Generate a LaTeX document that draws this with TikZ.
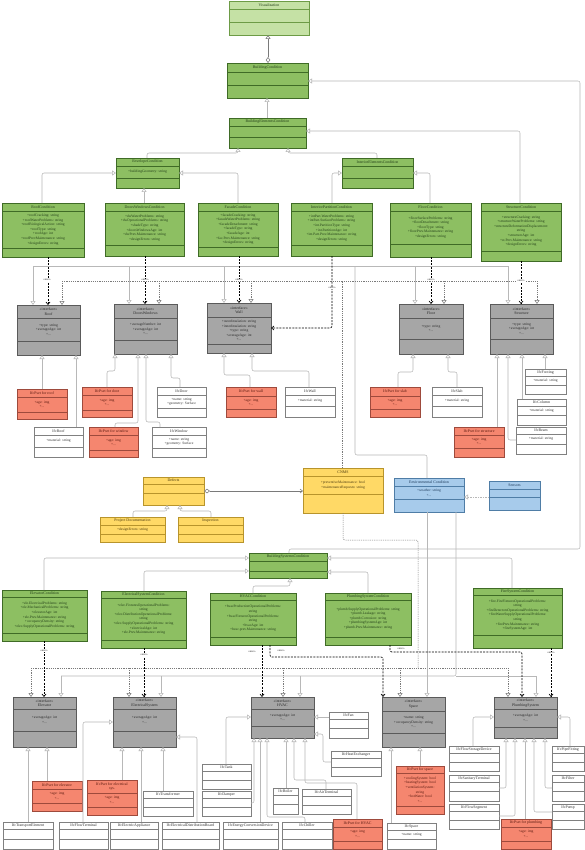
\documentclass[tikz,border=0pt]{standalone}
\usepackage{fontspec}
\setmainfont{Liberation Serif}
\usetikzlibrary{arrows.meta,fit,calc}
\definecolor{lgF}{HTML}{C5E1A5}\definecolor{lgD}{HTML}{6D9B46}
\definecolor{gF}{HTML}{8DBF62}\definecolor{gD}{HTML}{3F6B26}\definecolor{gT}{HTML}{24401A}
\definecolor{iF}{HTML}{A6A6A6}\definecolor{iD}{HTML}{5A5A5A}\definecolor{iT}{HTML}{2A2A2A}
\definecolor{pF}{HTML}{F5866F}\definecolor{pD}{HTML}{9E4A3C}\definecolor{pT}{HTML}{5A1A10}
\definecolor{yF}{HTML}{FFD966}\definecolor{yD}{HTML}{B8942B}\definecolor{yT}{HTML}{4A3A10}
\definecolor{bF}{HTML}{A7CBEB}\definecolor{bD}{HTML}{4F7DA6}\definecolor{bT}{HTML}{1E3A5A}
\definecolor{wD}{HTML}{808080}\definecolor{wT}{HTML}{333333}
\definecolor{lgray}{HTML}{B8B8B8}\definecolor{dgray}{HTML}{7A7A7A}
\newcommand{\tfont}{\fontsize{3.9}{4.6}\selectfont}
\newcommand{\afont}{\fontsize{3.6}{4.6}\selectfont}
\newcommand{\ufont}{\fontsize{3.1}{3.6}\selectfont}
\tikzset{
 lgbox/.style={fill=lgF,draw=lgD,line width=0.6pt}, lgbox-line/.style={draw=lgD,line width=0.5pt}, lgbox-text/.style={text=gT},
 gbox/.style={fill=gF,draw=gD,line width=0.6pt}, gbox-line/.style={draw=gD,line width=0.5pt}, gbox-text/.style={text=gT},
 ibox/.style={fill=iF,draw=iD,line width=0.6pt}, ibox-line/.style={draw=iD,line width=0.5pt}, ibox-text/.style={text=iT},
 pbox/.style={fill=pF,draw=pD,line width=0.6pt}, pbox-line/.style={draw=pD,line width=0.5pt}, pbox-text/.style={text=pT},
 ybox/.style={fill=yF,draw=yD,line width=0.6pt}, ybox-line/.style={draw=yD,line width=0.5pt}, ybox-text/.style={text=yT},
 bbox/.style={fill=bF,draw=bD,line width=0.6pt}, bbox-line/.style={draw=bD,line width=0.5pt}, bbox-text/.style={text=bT},
 wbox/.style={fill=white,draw=wD,line width=0.6pt}, wbox-line/.style={draw=wD,line width=0.5pt}, wbox-text/.style={text=wT},
 tri/.style={-{Triangle[open,fill=white,length=4pt,width=5pt]}},
 gen/.style={draw=lgray,line width=0.55pt,rounded corners=2pt,tri},
 envl/.style={draw=lgray,line width=0.55pt,rounded corners=2pt},
 envtip/.style={envl,tri},
 realC/.style={draw=dgray,line width=0.5pt,dash pattern=on 1.2pt off 1pt,rounded corners=2pt},
 realCtip/.style={realC,tri},
 usearr/.style={draw=black,line width=0.65pt,dash pattern=on 2pt off 1.2pt,rounded corners=2pt,-{Straight Barb[length=2.5pt,width=4pt]}},
 ulabel/.style={font=\ufont,text=black!80,fill=white,inner sep=0.3pt},
 agg/.style={draw=dgray,line width=0.55pt,{Diamond[open,fill=white,length=6pt,width=4.5pt]}-{Triangle[open,fill=white,length=4pt,width=5pt]}},
 aggb/.style={draw=dgray,line width=0.55pt,{Diamond[open,fill=white,length=6pt,width=4.5pt]}-{Straight Barb[length=2.5pt,width=4pt]}},
 sensl/.style={draw=lgray,line width=0.55pt,dash pattern=on 1.5pt off 1pt,tri}
}
% name, style, nw, se, line1 y, line2 y, title, attributes
\newcommand{\ub}[8]{%
 \coordinate (#1-nw) at (#3);\coordinate (#1-se) at (#4);
 \node[#2,fit=(#1-nw)(#1-se),inner sep=0pt,outer sep=0pt] (#1) {};
 \draw[#2-line] (#1.west |- 0,#5) -- (#1.east |- 0,#5);
 \draw[#2-line] (#1.west |- 0,#6) -- (#1.east |- 0,#6);
 \node[#2-text,font=\tfont,align=center,inner sep=0pt] (#1-t) at ($(#1.north)!0.5!(#1.north |- 0,#5)$) {#7};
 \node[#2-text,font=\afont,align=center,inner sep=0pt] (#1-a) at ($(#1.north |- 0,#5)!0.5!(#1.north |- 0,#6)$) {#8};
}
\begin{document}
\begin{tikzpicture}[x=1pt,y=-1pt]
\useasboundingbox[fill=white] (0,0) rectangle (585,850);
%================ connectors (drawn first) ================
% top hierarchy
\coordinate (vizp) at (268,35);
\ub{viz}{lgbox}{229,1}{309,35}{9}{22}{Visualization}{}
\ub{bc}{gbox}{227,63}{308,98}{72}{85}{BuildingCondition}{}
\ub{bec}{gbox}{229,118}{306,148}{126}{137}{BuildingElementsCondition}{}
\ub{env}{gbox}{116,158}{179,188}{166}{178}{EnvelopeCondition}{+buildingGeometry: string}
\ub{iec}{gbox}{342,158}{413,188}{166}{178}{InteriorElementsCondition}{}
\ub{roofc}{gbox}{2,203}{84,257}{211}{248}{RoofCondition}{+roofCracking: string\\+roofWaterProblems: string\\+roofBiologicalAction: string\\+roofType: string\\+roofAge: int\\+roofPrevMaintenance: string\\+designErrors: string}
\ub{dwc}{gbox}{105,203}{184,256}{211}{245}{DoorsWindowsCondition}{+dwWaterProblems: string\\+dwOperationalProblems: string\\+shadeType: string\\+doorsWindowsAge: int\\+dwPrev.Maintenance: string\\+designErrors: string}
\ub{facc}{gbox}{198,203}{278,256}{211}{247}{FacadeCondition}{+facadeCracking: string\\+facadeWaterProblems: string\\+facadeDetachment: string\\+facadeType: string\\+facadeAge: int\\+fac.Prev.Maintenance: string\\+designErrors: string}
\ub{ipc}{gbox}{291,203}{372,256}{211}{245}{InteriorPartitionCondition}{+intPart.WaterProblems: string\\+intPart.SurfaceProblems: string\\+int.PartitionType: string\\+int.PartitionAge: int\\+int.Part.Prev.Maintenance: string\\+designErrors: string}
\ub{floorc}{gbox}{390,203}{471,257}{211}{244}{FloorCondition}{+floorSurfaceProblems: string\\+floorDetachment: string\\+floorType: string\\+floorPrev.Maintenance: string\\+designErrors: string}
\ub{strc}{gbox}{481,203}{561,261}{211}{251}{StructureCondition}{+structureCracking: string\\+structureWaterProblems: string\\+structureDeformationDisplacement:\\string\\+structureAge: int\\+st.Prev.Maintenance: string\\+designErrors: string}
% interfaces (elements)
\ub{roofi}{ibox}{17,305}{80,355}{318}{341}{«interface»\\Roof}{+type: string\\+averageAge: int\\+...}
\ub{dwi}{ibox}{114,304}{177,354}{318}{340}{«interface»\\DoorsWindows}{+averageNumber: int\\+averageAge: int\\+...}
\ub{walli}{ibox}{207,303}{271,353}{317}{344}{«interface»\\Wall}{+outerInsulation: string\\+innerInsulation: string\\+type: string\\+averageAge: int\\+...}
\ub{floori}{ibox}{399,304}{463,354}{318}{339}{«interface»\\Floor}{+type: string\\+...}
\ub{stri}{ibox}{490,304}{553,354}{318}{339}{«interface»\\Structure}{+type: string\\+averageAge: int\\+...}
% element parts
\ub{psroof}{pbox}{17,389}{67,419}{397}{412}{IfcPset for roof}{+age: img\\+...}
\ub{ifcroof}{wbox}{34,427}{83,457}{435}{447}{IfcRoof}{+material: string}
\ub{psdoor}{pbox}{82,387}{132,417}{395}{410}{IfcPset for door}{+age: img\\+...}
\ub{pswin}{pbox}{89,427}{138,457}{435}{450}{IfcPset for window}{+age: img\\+...}
\ub{ifcdoor}{wbox}{157,387}{206,417}{395}{408}{IfcDoor}{+name: string\\+geometry: Surface}
\ub{ifcwin}{wbox}{152,427}{206,457}{435}{448}{IfcWindow}{+name: string\\+geometry: Surface}
\ub{pswall}{pbox}{226,387}{276,417}{396}{409}{IfcPset for wall}{+age: img\\+...}
\ub{ifcwall}{wbox}{285,387}{335,417}{395}{406}{IfcWall}{+material: string}
\ub{psslab}{pbox}{370,387}{420,417}{396}{409}{IfcPset for slab}{+age: img\\+...}
\ub{ifcslab}{wbox}{432,387}{482,417}{395}{406}{IfcSlab}{+material: string}
\ub{psstr}{pbox}{454,427}{504,457}{435}{448}{IfcPset for structure}{+age: img\\+...}
\ub{ifcfoot}{wbox}{525,369}{566,394}{376}{385}{IfcFooting}{+material: string}
\ub{ifccol}{wbox}{517,399}{566,425}{406}{415}{IfcColumn}{+material: string}
\ub{ifcbeam}{wbox}{516,427}{566,454}{434}{444}{IfcBeam}{+material: string}
% middle
\ub{defects}{ybox}{143,477}{204,505}{484}{493}{Defects}{}
\ub{projdoc}{ybox}{100,517}{165,542}{525}{534}{Project Documentation}{+designErrors: string}
\ub{insp}{ybox}{178,517}{243,542}{525}{534}{Inspection}{}
\ub{cnms}{ybox}{303,468}{383,513}{476}{494}{CNMS}{+preventiveMaintenance: bool\\+maintenanceRequests: string}
\ub{envc}{bbox}{394,478}{464,512}{486}{499}{Environmental Condition}{+weather: string\\+...}
\ub{sensors}{bbox}{489,481}{540,510}{489}{497}{Sensors}{}
% systems
\ub{bsc}{gbox}{249,553}{327,578}{561}{571}{BuildingSystemsCondition}{}
\ub{elevc}{gbox}{2,590}{87,641}{597}{633}{ElevatorCondition}{+ele.ElectricalProblems: string\\+ele.MechanicalProblems: string\\+elevatorAge: int\\+ele.Prev.Maintenance: string\\+occupancyDensity: string\\+elec.SupplyOperationalProblems: string}
\ub{elecc}{gbox}{101,591}{186,648}{598}{640}{ElectricalSystemCondition}{+elec.FixturesOperationalProblems:\\string\\+elec.DistributionOperationalProblems:\\string\\+elec.SupplyOperationalProblems: string\\+electricalAge: int\\+ele.Prev.Maintenance: string}
\ub{hvacc}{gbox}{210,593}{296,645}{600}{637}{HVACCondition}{+hvacProductionOperationalProblems:\\string\\+hvacFixturesOperationalProblems:\\string\\+hvacAge: int\\+hvac.prev.Maintenance: string}
\ub{plumbc}{gbox}{325,593}{411,645}{600}{637}{PlumbingSystemCondition}{+plumb.SupplyOperationalProblems: string\\+plumb.Leakage: string\\+plumb.Corrosion: string\\+plumbingSystemAge: int\\+plumb.Prev.Maintenance: string}
\ub{firec}{gbox}{473,588}{562,648}{595}{635}{FireSystemCondition}{+fire.FireFixturesOperationalProblems:\\string\\+fireDetectorsOperationalProblems: string\\+fireWaterSupplyOperationalProblems:\\string\\+firePrev.Maintenance: string\\+fireSystemAge: int}
\ub{elevi}{ibox}{13,697}{76,747}{709}{731}{«interface»\\Elevator}{+averageAge: int\\+...}
\ub{eleci}{ibox}{113,697}{176,747}{709}{731}{«interface»\\ElectricalSystem}{+averageAge: int\\+...}
\ub{hvaci}{ibox}{251,697}{314,738}{709}{726}{«interface»\\HVAC}{+averageAge: int\\+...}
\ub{spacei}{ibox}{382,697}{445,747}{711}{733}{«interface»\\Space}{+name: string\\+occupancyDensity: string\\+...}
\ub{plumbi}{ibox}{494,697}{557,738}{709}{727}{«interface»\\PlumbingSystem}{+averageAge: int\\+...}
\ub{pselev}{pbox}{32,781}{82,811}{789}{803}{IfcPset for elevator}{+age: img\\+...}
\ub{pselec}{pbox}{87,780}{137,815}{793}{807}{IfcPset for electrical\\sys.}{+age: img\\+...}
\ub{ifctrans}{wbox}{143,791}{193,816}{798}{807}{IfcTransformer}{}
\ub{ifctank}{wbox}{202,764}{251,789}{771}{780}{IfcTank}{}
\ub{ifcdamper}{wbox}{202,791}{251,816}{798}{807}{IfcDamper}{}
\ub{ifcboiler}{wbox}{273,788}{298,814}{795}{804}{IfcBoiler}{}
\ub{ifcair}{wbox}{302,789}{351,814}{796}{805}{IfcAirTerminal}{}
\ub{ifcfan}{wbox}{329,712}{368,738}{719}{728}{IfcFan}{}
\ub{ifchx}{wbox}{331,751}{381,776}{758}{767}{IfcHeatExchanger}{}
\ub{psspace}{pbox}{396,766}{444,814}{773}{806}{IfcPset for space}{+coolingSystem: bool\\+heatingSystem: bool\\+ventilationSystem:\\string\\+hotWater: bool\\+...}
\ub{ifcfsd}{wbox}{449,746}{499,771}{753}{762}{IfcFlowStorageDevice}{}
\ub{ifcsan}{wbox}{449,775}{499,801}{782}{791}{IfcSanitaryTerminal}{}
\ub{ifcfseg}{wbox}{449,804}{499,829}{811}{820}{IfcFlowSegment}{}
\ub{ifcpipe}{wbox}{552,746}{584,771}{753}{762}{IfcPipeFitting}{}
\ub{ifcfilter}{wbox}{552,775}{584,801}{782}{791}{IfcFilter}{}
\ub{ifcpump}{wbox}{552,804}{584,829}{811}{820}{IfcPump}{}
\ub{psplumb}{pbox}{501,819}{551,849}{827}{841}{IfcPset for plumbing}{+age: img\\+...}
\ub{ifctransport}{wbox}{3,822}{53,849}{829}{839}{IfcTransportElement}{}
\ub{ifcflowterm}{wbox}{59,822}{108,849}{829}{839}{IfcFlowTerminal}{}
\ub{ifcelapp}{wbox}{110,822}{158,849}{829}{839}{IfcElectricAppliance}{}
\ub{ifceldb}{wbox}{162,822}{219,849}{829}{839}{IfcElectricalDistributionBoard}{}
\ub{ifcecd}{wbox}{223,822}{278,849}{829}{839}{IfcEnergyConversionDevice}{}
\ub{ifcchiller}{wbox}{282,822}{332,849}{829}{839}{IfcChiller}{}
\ub{pshvac}{pbox}{333,819}{382,849}{827}{841}{IfcPset for HVAC}{+age: img\\+...}
\ub{ifcspace}{wbox}{387,823}{436,849}{830}{839}{IfcSpace}{+name: string}
%================ connectors ================
\draw[agg] (bc.north -| 268,0) -- (viz.south -| 268,0);
\draw[gen] (bec.north -| 267,0) -- (bc.south -| 267,0);
\draw[gen] (bsc.north -| 289,0) |- (580,549) |- (bc.east |- 0,81);
\draw[gen] (strc.north -| 520,0) |- (bec.east |- 0,131);
\draw[gen] (env.north -| 147,0) -- ++(0,-5) -| (bec.south -| 238,0);
\draw[gen] (iec.north -| 377,0) -- ++(0,-5) -| (bec.south -| 288,0);
\draw[gen] (roofc.north -| 42,0) |- (env.west |- 0,173);
\draw[gen] (dwc.north -| 144,0) -- (env.south -| 144,0);
\draw[gen] (facc.north -| 238,0) |- (env.east |- 0,173);
\draw[gen] (ipc.north -| 332,0) |- (iec.west |- 0,173);
\draw[gen] (floorc.north -| 430,0) |- (iec.east |- 0,173);
% environmental condition to element interfaces
\coordinate (eA) at (427,455);\coordinate (eB) at (355,455);\coordinate (eC) at (355,266);
\draw[envl] (envc.north -| 427,0) -- (eA) -- (eB) -- (eC);
\draw[envl] (33,266) -- (508,266);
\foreach \n/\x in {roofi/33,dwi/129,walli/224,floori/415,stri/508}{\draw[envtip] (\x,266) -- (\n.north -| \x,0);}
% CNMS to element interfaces
\draw[realC] (cnms.north -| 342,0) -- (342,281);
\draw[realC] (62,281) -- (537,281);
\foreach \n/\x in {roofi/62,dwi/159,walli/251,floori/444,stri/537}{\draw[realCtip] (\x,281) -- (\n.north -| \x,0);}
% use dependencies (elements)
\draw[usearr] (roofc.south -| 48,0) -- (roofi.north -| 48,0);
\draw[usearr] (dwc.south -| 145,0) -- (dwi.north -| 145,0);
\draw[usearr] (facc.south -| 239,0) -- (walli.north -| 239,0);
\draw[usearr] (ipc.south -| 332,0) |- (walli.east |- 0,328);
\draw[usearr] (floorc.south -| 431,0) -- (floori.north -| 431,0);
\draw[usearr] (strc.south -| 521,0) -- (stri.north -| 521,0);
\node[ulabel] (u1) at (47,280) {«use»};
\node[ulabel] (u2) at (145,280) {«use»};
\node[ulabel] (u3) at (239,280) {«use»};
\node[ulabel] (u4) at (332,288) {«use»};
\node[ulabel] (u5) at (431,280) {«use»};
\node[ulabel] (u6) at (521,281) {«use»};
% element parts
\draw[gen] (psroof.north -| 42,0) -- (roofi.south -| 42,0);
\draw[gen] (ifcroof.north -| 76,0) -- (roofi.south -| 76,0);
\draw[gen] (psdoor.north -| 107,0) -- ++(0,-16) -| (dwi.south -| 115,0);
\draw[gen] (pswin.north -| 115,0) -- ++(0,-4) -| (dwi.south -| 138,0);
\draw[gen] (ifcwin.north -| 160,0) -- ++(0,-5) -| (dwi.south -| 146,0);
\draw[gen] (ifcdoor.north -| 180,0) -- ++(0,-9) -| (dwi.south -| 171,0);
\draw[gen] (pswall.north -| 250,0) -- ++(0,-12) -| (walli.south -| 224,0);
\draw[gen] (ifcwall.north -| 309,0) -- ++(0,-16) -| (walli.south -| 252,0);
\draw[gen] (psslab.north -| 398,0) -- ++(0,-15) -| (floori.south -| 413,0);
\draw[gen] (ifcslab.north -| 457,0) -- ++(0,-15) -| (floori.south -| 448,0);
\draw[gen] (psstr.north -| 497,0) -- (stri.south -| 497,0);
\draw[gen] (ifcbeam.west |- 0,440) -| (stri.south -| 508,0);
\draw[gen] (ifccol.north -| 522,0) -- (stri.south -| 522,0);
\draw[gen] (ifcfoot.north -| 545,0) -- (stri.south -| 545,0);
% middle
\draw[aggb] (defects.east |- 0,491) -- (cnms.west |- 0,491);
\draw[gen] (projdoc.north -| 133,0) -- ++(0,-6) -| (defects.south -| 167,0);
\draw[gen] (insp.north -| 211,0) -- ++(0,-6) -| (defects.south -| 180,0);
\draw[sensl] (sensors.west |- 0,497) -- (envc.east |- 0,497);
% CNMS to system interfaces
\draw[realC] (cnms.south -| 343,0) |- (418,540) -- (418,668);
\draw[realC] (31,668) -- (508,668);
\foreach \n/\x in {elevi/31,eleci/129,hvaci/283,spacei/400,plumbi/508}{\draw[realCtip] (\x,668) -- (\n.north -| \x,0);}
% environmental condition to system interfaces
\draw[envtip] (envc.south -| 427,0) -- (spacei.north -| 427,0);
\draw[envl] (envc.south -| 456,0) |- (61,676);
\draw[envl] (456,676) -- (536,676);
\foreach \n/\x in {elevi/61,eleci/161,hvaci/300,plumbi/536}{\draw[envtip] (\x,676) -- (\n.north -| \x,0);}
% systems hierarchy
\draw[gen] (elevc.north -| 44,0) |- (bsc.west |- 0,558);
\draw[gen] (elecc.north -| 144,0) |- (bsc.west |- 0,571);
\draw[gen] (hvacc.north -| 253,0) -- ++(0,-7) -| (bsc.south -| 290,0);
\draw[gen] (firec.north -| 512,0) |- (bsc.east |- 0,558);
\draw[gen] (plumbc.north -| 368,0) |- (bsc.east |- 0,572);
% use dependencies (systems)
\draw[usearr] (elevc.south -| 44,0) -- (elevi.north -| 44,0);
\draw[usearr] (elecc.south -| 144,0) -- (eleci.north -| 144,0);
\draw[usearr] (hvacc.south -| 262,0) -- (hvaci.north -| 262,0);
\draw[usearr] (hvacc.south -| 270,0) |- (383,657) -- (spacei.north -| 383,0);
\draw[usearr] (plumbc.south -| 390,0) |- (522,652) -- (plumbi.north -| 522,0);
\draw[usearr] (firec.south -| 551,0) -- (plumbi.north -| 551,0);
\node[ulabel] (u7) at (44,651) {«use»};
\node[ulabel] (u8) at (144,655) {«use»};
\node[ulabel,fill=none] (u9) at (252,652) {«use»};
\node[ulabel,fill=none] (u10) at (281,651) {«use»};
\node[ulabel,fill=none] (u11) at (401,649) {«use»};
\node[ulabel] (u12) at (551,653) {«use»};
% system parts
\draw[gen] (ifctransport.north -| 28,0) -- (elevi.south -| 28,0);
\draw[gen] (pselev.north -| 47,0) -- (elevi.south -| 47,0);
\draw[gen] (ifcflowterm.north -| 83,0) |- (eleci.west |- 0,722);
\draw[gen] (pselec.north -| 122,0) -- (eleci.south -| 122,0);
\draw[gen] (ifcelapp.north -| 141,0) -- (eleci.south -| 141,0);
\draw[gen] (ifctrans.north -| 163,0) -- (eleci.south -| 163,0);
\draw[gen] (ifceldb.north -| 197,0) |- (eleci.east |- 0,737);
\draw[gen] (ifctank.north -| 226,0) |- (hvaci.west |- 0,717);
\draw[gen] (ifcdamper.east |- 0,803) -| (hvaci.south -| 254,0);
\draw[gen] (ifcecd.north -| 260,0) -- (hvaci.south -| 260,0);
\draw[gen] (ifcchiller.north -| 305,0) -- ++(0,-5) -| (hvaci.south -| 267,0);
\draw[gen] (ifcboiler.north -| 286,0) -- (hvaci.south -| 286,0);
\draw[gen] (ifcair.north -| 326,0) -- ++(0,-9) -| (hvaci.south -| 294,0);
\draw[gen] (pshvac.north -| 357,0) -- ++(0,-36) -| (hvaci.south -| 305,0);
\draw[gen] (ifcfan.west |- 0,717) -- (hvaci.east |- 0,717);
\draw[gen] (ifchx.west |- 0,762) -- ++(-8,0) |- (hvaci.east |- 0,734);
\draw[gen] (ifcspace.north -| 391,0) -- (spacei.south -| 391,0);
\draw[gen] (psspace.north -| 420,0) -- (spacei.south -| 420,0);
\draw[gen] (ifcfsd.north -| 473,0) |- (plumbi.west |- 0,717);
\draw[gen] (ifcpipe.north -| 570,0) |- (plumbi.east |- 0,717);
\draw[gen] (ifcsan.east |- 0,788) -| (plumbi.south -| 506,0);
\draw[gen] (ifcfseg.east |- 0,816) -| (plumbi.south -| 515,0);
\draw[gen] (psplumb.north -| 525,0) -- (plumbi.south -| 525,0);
\draw[gen] (ifcpump.west |- 0,812) -| (plumbi.south -| 534,0);
\draw[gen] (ifcfilter.west |- 0,788) -| (plumbi.south -| 545,0);
\end{tikzpicture}
\end{document}
